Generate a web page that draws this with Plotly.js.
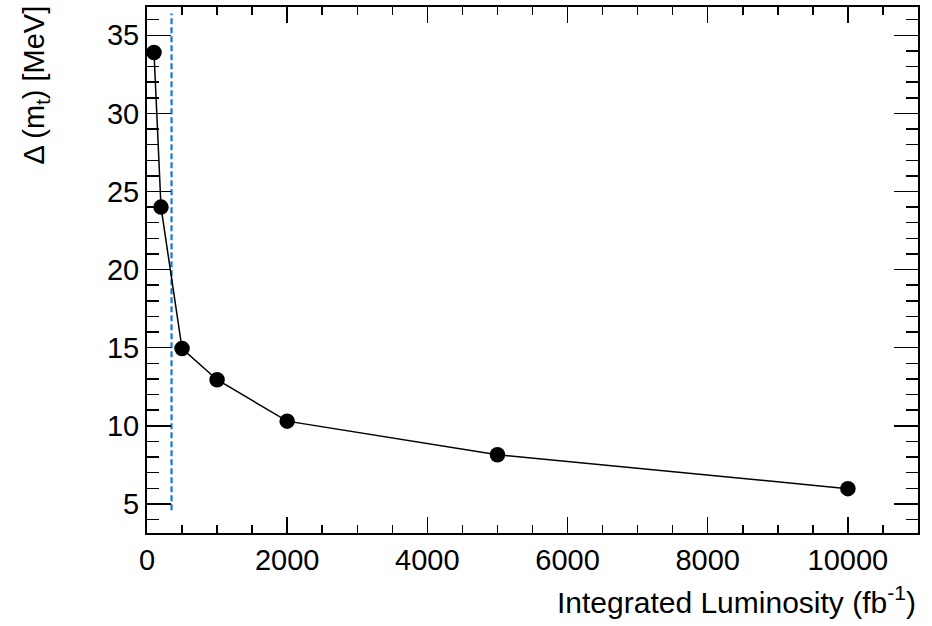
<!DOCTYPE html>
<html>
<head>
<meta charset="utf-8">
<script src="https://cdn.plot.ly/plotly-3.0.1.min.js"></script>
<style>html,body{margin:0;padding:0;background:#fff;}#plot{width:932px;height:626px;}</style>
</head>
<body>
<div id="plot"></div>
<script>
// Data
const luminosity = [100, 200, 500, 1000, 2000, 5000, 10000];
const deltaMt = [33.9, 24.0, 14.95, 12.95, 10.3, 8.15, 5.98];
const refLineX = [350, 350];
const refLineY = [4.6, 36.4];
const xTickVals = [0, 2000, 4000, 6000, 8000, 10000];
const xTickText = ["0", "2000", "4000", "6000", "8000", "10000"];
const yTickVals = [5, 10, 15, 20, 25, 30, 35];
const yTickText = ["5", "10", "15", "20", "25", "30", "35"];

const FONT = "Liberation Sans, Arial, Helvetica, sans-serif";

const traces = [
  {
    x: refLineX, y: refLineY, mode: "lines", type: "scatter",
    line: {color: "rgb(20,120,215)", width: 2.2, dash: "6px,3px"},
    hoverinfo: "skip", showlegend: false
  },
  {
    x: luminosity, y: deltaMt, mode: "lines+markers", type: "scatter",
    line: {color: "black", width: 1.5},
    marker: {color: "black", size: 15.5, symbol: "circle"},
    showlegend: false
  }
];

const axisCommon = {
  showgrid: false, zeroline: false, showline: true, linecolor: "black", linewidth: 2,
  mirror: "ticks", ticks: "inside", tickcolor: "black", tickwidth: 1.5,
  tickfont: {family: FONT, size: 29, color: "black"}
};

const layout = {
  width: 932, height: 626,
  margin: {l: 147, r: 14, t: 7, b: 93},
  paper_bgcolor: "white", plot_bgcolor: "white",
  showlegend: false,
  xaxis: Object.assign({}, axisCommon, {
    range: [0, 11000], tickvals: xTickVals, ticktext: xTickText, ticklen: 16,
    minor: {dtick: 500, tick0: 0, ticks: "inside", ticklen: 8, tickcolor: "black", tickwidth: 1.5, showgrid: false}
  }),
  yaxis: Object.assign({}, axisCommon, {
    range: [3.14, 36.81], tickvals: yTickVals, ticktext: yTickText, ticklen: 24,
    minor: {dtick: 1, tick0: 0, ticks: "inside", ticklen: 12, tickcolor: "black", tickwidth: 1.5, showgrid: false}
  }),
  annotations: [
    {
      text: "Integrated Luminosity (fb<sup>-1</sup>)", xref: "paper", yref: "paper",
      x: 1, y: 0, xanchor: "right", yanchor: "middle", yshift: -67, xshift: 0,
      showarrow: false, font: {family: FONT, size: 30, color: "black"}
    },
    {
      text: "Δ (m<sub>t</sub>) [MeV]", xref: "paper", yref: "paper",
      x: 0, y: 1, xanchor: "center", yanchor: "top", xshift: -112, yshift: 3,
      textangle: -90, showarrow: false, font: {family: FONT, size: 29, color: "black"}
    }
  ]
};

Plotly.newPlot("plot", traces, layout, {staticPlot: true, displayModeBar: false});
</script>
</body>
</html>
